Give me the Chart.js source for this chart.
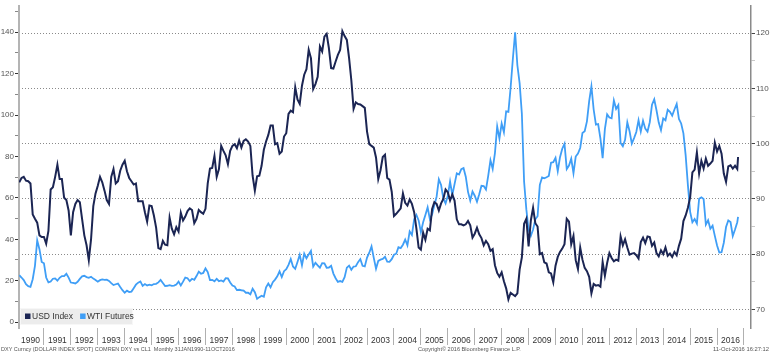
<!DOCTYPE html>
<html>
<head>
<meta charset="utf-8">
<script src="https://cdn.jsdelivr.net/npm/chart.js@4/dist/chart.umd.min.js"></script>
<style>
html,body{margin:0;padding:0;background:#fff;overflow:hidden}
#wrap{position:relative;width:770px;height:353px}
</style>
</head>
<body>
<div id="wrap"><canvas id="c" width="770" height="353"></canvas></div>
<script>
// ---------------- data ----------------
const startYear = 1990;          // first monthly observation: 31 Jan 1990
const lastObsDay = 11;           // last observation: 11 Oct 2016
const yearLabels = [1990,1991,1992,1993,1994,1995,1996,1997,1998,1999,2000,2001,2002,2003,2004,2005,2006,2007,2008,2009,2010,2011,2012,2013,2014,2015,2016];
const seriesNames = ['USD Index', 'WTI Futures'];
const leftTicks = [0,20,40,60,80,100,120,140];
const rightTicks = [70,80,90,100,110,120];

// DXY monthly closes (right axis)
const usdIndex = [
  93.0, 93.8, 94.0, 93.3, 93.2, 92.8, 87.2, 86.4, 85.7, 83.4, 83.1, 83.1,
  81.9, 84.2, 91.7, 92.1, 94.0, 96.2, 93.6, 93.6, 90.2, 89.8, 87.9, 83.4,
  87.6, 89.1, 89.8, 89.4, 86.4, 83.4, 81.6, 78.9, 82.7, 88.7, 91.0, 92.4,
  94.0, 93.0, 91.5, 89.8, 89.1, 94.0, 95.4, 92.8, 93.2, 95.1, 96.2, 96.9,
  95.0, 93.8, 93.2, 92.6, 92.8, 89.6, 89.6, 89.6, 87.6, 85.9, 88.8, 88.7,
  87.0, 84.8, 81.1, 80.9, 82.4, 81.7, 81.6, 86.6, 84.6, 83.6, 84.9, 84.1,
  87.5, 86.1, 86.8, 87.8, 88.3, 88.0, 85.6, 86.4, 88.0, 87.6, 87.3, 88.2,
  92.8, 95.5, 95.6, 97.8, 94.0, 95.4, 99.6, 98.7, 97.9, 96.3, 98.7, 99.6,
  99.9, 99.2, 100.6, 99.3, 100.5, 100.8, 100.4, 99.6, 94.2, 91.5, 94.1, 94.2,
  96.0, 98.9, 100.4, 101.6, 103.3, 103.3, 99.9, 100.1, 98.2, 98.6, 101.3, 101.9,
  105.4, 106.0, 105.7, 110.2, 108.0, 107.2, 110.5, 112.5, 113.5, 117.0, 115.5, 109.9,
  110.8, 112.1, 117.6, 116.7, 119.4, 119.9, 117.3, 113.7, 113.6, 114.9, 116.1, 117.0,
  120.4, 119.5, 118.8, 115.5, 111.5, 106.3, 107.5, 107.2, 107.1, 106.8, 106.5, 102.2,
  99.9, 99.6, 99.3, 97.5, 93.6, 95.2, 97.6, 98.0, 93.8, 93.5, 91.3, 86.9,
  87.3, 87.8, 88.3, 91.0, 89.3, 88.8, 89.9, 89.1, 87.6, 84.6, 81.2, 80.8,
  83.9, 82.6, 84.6, 84.3, 88.2, 89.4, 89.1, 87.9, 89.2, 90.0, 91.7, 91.2,
  89.7, 90.8, 89.7, 86.3, 85.4, 85.4, 85.2, 85.4, 86.0, 85.2, 83.0, 83.7,
  84.8, 83.6, 82.9, 81.6, 82.4, 81.8, 80.6, 80.9, 78.0, 76.6, 75.9, 76.7,
  75.1, 73.8, 71.8, 73.0, 72.7, 72.4, 72.9, 77.2, 79.4, 85.5, 86.4, 81.4,
  86.1, 88.4, 85.6, 85.0, 80.0, 80.2, 78.5, 78.3, 76.7, 76.5, 74.9, 77.9,
  79.5, 80.4, 81.0, 81.8, 86.4, 85.9, 81.8, 83.3, 78.9, 77.3, 81.2, 79.0,
  77.5, 76.9, 75.9, 72.9, 74.6, 74.3, 74.4, 74.1, 78.6, 76.1, 78.4, 80.2,
  79.3, 78.7, 79.0, 78.8, 83.2, 81.6, 82.7, 81.2, 79.9, 80.1, 80.2, 79.8,
  79.2, 82.2, 83.0, 82.0, 83.2, 83.1, 81.5, 82.1, 80.2, 79.6, 80.7, 80.0,
  81.2, 79.7, 80.1, 79.5, 80.4, 79.8, 81.5, 82.8, 86.0, 87.0, 88.4, 90.3,
  94.8, 95.3, 98.4, 94.6, 96.9, 95.5, 97.3, 96.0, 96.4, 96.9, 100.2, 98.6,
  99.6, 98.2, 94.6, 93.1, 95.9, 96.1, 95.5, 96.0, 95.4, 97.6
];

// WTI front-month monthly closes (left axis)
const wtiFutures = [
  22.68, 21.54, 20.28, 18.36, 17.40, 17.07, 20.69, 27.17, 39.51, 35.23, 29.03, 28.44,
  21.54, 19.16, 19.63, 20.96, 21.13, 20.00, 21.40, 22.25, 22.23, 23.35, 21.48, 19.12,
  18.90, 18.68, 19.44, 20.85, 22.11, 22.38, 21.76, 21.36, 21.91, 21.02, 20.37, 19.50,
  20.26, 20.60, 20.44, 20.53, 19.91, 18.85, 17.88, 18.29, 18.59, 16.92, 15.43, 14.17,
  15.19, 14.48, 14.74, 16.37, 18.07, 19.06, 19.65, 17.51, 18.39, 17.71, 18.07, 17.76,
  18.39, 18.49, 19.17, 20.38, 18.89, 17.40, 17.56, 17.84, 17.54, 17.64, 18.18, 19.55,
  17.74, 19.54, 21.47, 21.20, 19.76, 20.92, 20.42, 22.25, 24.38, 23.35, 23.75, 25.92,
  24.15, 20.30, 20.41, 19.71, 20.88, 19.80, 20.14, 19.61, 21.18, 21.08, 19.15, 17.64,
  17.21, 15.44, 15.61, 15.39, 15.20, 14.18, 14.21, 13.41, 16.14, 14.42, 11.22, 12.05,
  12.75, 12.27, 16.76, 18.66, 16.84, 19.29, 20.53, 22.10, 24.51, 21.75, 24.59, 25.60,
  27.64, 30.43, 26.90, 25.74, 29.01, 32.50, 27.43, 33.12, 30.84, 32.70, 34.40, 26.80,
  28.66, 27.39, 26.29, 28.46, 28.37, 26.25, 26.35, 27.20, 23.43, 21.18, 19.44, 19.84,
  19.48, 21.74, 26.31, 27.29, 25.31, 26.86, 26.97, 28.98, 30.45, 27.22, 26.89, 31.20,
  33.51, 36.60, 31.04, 25.80, 29.56, 30.19, 30.54, 31.57, 29.20, 29.11, 30.41, 32.52,
  33.05, 36.16, 35.76, 37.38, 39.88, 37.05, 43.80, 42.12, 49.64, 51.76, 49.13, 43.45,
  48.20, 51.75, 55.40, 49.72, 51.97, 56.50, 60.57, 68.94, 66.24, 59.76, 57.32, 61.04,
  67.92, 61.41, 66.63, 71.88, 71.29, 73.93, 74.40, 70.26, 62.91, 58.73, 63.13, 61.05,
  58.14, 61.79, 65.87, 65.71, 64.01, 70.68, 78.21, 74.04, 81.66, 94.53, 88.71, 95.98,
  91.75, 101.84, 101.58, 113.46, 127.35, 140.00, 124.08, 115.46, 100.64, 67.81, 54.43, 44.60,
  41.68, 44.76, 49.66, 51.12, 66.31, 69.89, 69.45, 69.96, 70.61, 77.00, 77.28, 79.36,
  72.89, 79.66, 83.76, 86.15, 73.97, 75.63, 78.95, 71.92, 79.97, 81.43, 84.11, 91.38,
  92.19, 96.97, 106.72, 113.93, 102.70, 95.42, 95.70, 88.81, 79.20, 93.19, 100.36, 98.83,
  98.48, 107.07, 103.02, 104.87, 86.53, 84.96, 88.06, 96.47, 92.19, 86.24, 88.91, 91.82,
  97.49, 92.05, 97.23, 93.46, 91.97, 96.56, 105.03, 107.65, 102.33, 96.38, 92.72, 98.42,
  97.49, 102.59, 101.58, 99.74, 102.71, 105.37, 98.17, 95.96, 91.16, 80.54, 66.15, 53.27,
  48.24, 49.76, 47.60, 59.63, 60.30, 59.47, 47.12, 49.20, 45.09, 46.59, 41.65, 37.04,
  33.62, 33.75, 38.34, 45.92, 49.10, 48.33, 41.60, 44.70, 48.24, 50.79
];

const footerLeft = 'DXY Curncy (DOLLAR INDEX SPOT) COMREN DXY vs CL1  Monthly 31JAN1990-11OCT2016';
const footerCenter = 'Copyright\u00A9 2016 Bloomberg Finance L.P.';
const footerRight = '11-Oct-2016 16:27:12';

// ---------------- helpers ----------------
function timeOf(i, n) {
  const y = startYear + Math.floor(i / 12);
  const m = i % 12;
  if (i === n - 1) return y + m / 12 + lastObsDay / 31 / 12;
  return y + (m + 1) / 12;
}
function toPoints(arr) { return arr.map((v, i) => ({ x: timeOf(i, arr.length), y: v })); }

const FONT = "'Liberation Sans', Arial, sans-serif";
Chart.defaults.font.family = FONT;

const COLOR_USD = '#1b2553';
const COLOR_WTI = '#3f9ef6';

const legendBox = {
  id: 'legendBox',
  afterDatasetsDraw(chart) {
    const ctx = chart.ctx, a = chart.chartArea;
    const x0 = a.left + 1, y0 = 308, w = 113, h = 17;
    ctx.save();
    ctx.fillStyle = '#ececec';
    ctx.fillRect(x0, y0, w, h);
    ctx.strokeStyle = '#f7f7f7';
    ctx.lineWidth = 1;
    ctx.strokeRect(x0 + 0.5, y0 + 0.5, w - 1, h - 1);
    ctx.font = '8.5px ' + FONT;
    ctx.textBaseline = 'middle';
    const cy = y0 + h / 2;
    const items = chart.data.datasets.map(d => ({ label: d.label, color: d.borderColor }));
    let x = x0 + 5;
    items.forEach(it => {
      ctx.fillStyle = it.color;
      ctx.fillRect(x, cy - 3, 5.5, 5.5);
      x += 7;
      ctx.fillStyle = '#333';
      ctx.fillText(it.label, x, cy + 0.5);
      x += ctx.measureText(it.label).width + 7;
    });
    ctx.restore();
  }
};

const footer = {
  id: 'footer',
  afterDraw(chart) {
    const ctx = chart.ctx;
    ctx.save();
    ctx.fillStyle = '#555';
    ctx.textBaseline = 'middle';
    ctx.font = '5.5px ' + FONT;
    ctx.textAlign = 'left';
    ctx.fillText(footerLeft, 1, 349);
    ctx.font = '5.6px ' + FONT;
    ctx.fillText(footerCenter, 418, 349);
    ctx.font = '5.8px ' + FONT;
    ctx.textAlign = 'right';
    ctx.fillText(footerRight, 769, 349);
    ctx.restore();
  }
};

new Chart(document.getElementById('c'), {
  type: 'line',
  data: {
    datasets: [
      { label: seriesNames[0], data: toPoints(usdIndex), yAxisID: 'yR', borderColor: COLOR_USD, backgroundColor: COLOR_USD, borderWidth: 2, pointRadius: 0, tension: 0, order: 0 },
      { label: seriesNames[1], data: toPoints(wtiFutures), yAxisID: 'yL', borderColor: COLOR_WTI, backgroundColor: COLOR_WTI, borderWidth: 1.8, pointRadius: 0, tension: 0, order: 1 }
    ]
  },
  options: {
    responsive: false,
    animation: false,
    devicePixelRatio: 1,
    layout: { padding: { left: 0, right: 0, top: 0, bottom: 8 } },
    plugins: { legend: { display: false }, tooltip: { enabled: false } },
    scales: {
      x: {
        type: 'linear', position: 'bottom',
        min: 1990.074, max: 2017.26,
        afterBuildTicks: s => { s.ticks = yearLabels.map(y => ({ value: y + 0.5 })); },
        afterFit: s => { s.height = 17; },
        ticks: { autoSkip: false, maxRotation: 0, minRotation: 0, padding: -9,
          callback: (v, i) => String(yearLabels[i]), color: '#333', font: { size: 8.5 } },
        grid: { offset: true, drawOnChartArea: false, drawTicks: true, tickLength: 17, color: '#b0b0b0', tickColor: '#b0b0b0', lineWidth: 1 },
        border: { display: false }
      },
      yL: {
        type: 'linear', position: 'left',
        min: -2.85, max: 152.8,
        afterBuildTicks: s => {
          const t = [];
          for (let k = 0; k < leftTicks.length; k++) {
            t.push({ value: leftTicks[k] });
            const next = k + 1 < leftTicks.length ? leftTicks[k + 1] : leftTicks[k] + (leftTicks[1] - leftTicks[0]);
            t.push({ value: (leftTicks[k] + next) / 2 });
          }
          s.ticks = t;
        },
        afterFit: s => { s.width = 19; },
        ticks: { autoSkip: false, padding: 1, color: '#555', font: { size: 8 },
          callback: v => leftTicks.includes(v) ? String(v) : '' },
        grid: { drawOnChartArea: false, tickLength: 4, tickWidth: 1,
          tickColor: c => leftTicks.includes(c.tick && c.tick.value) ? '#333' : '#888' },
        border: { color: '#b4b4b4', width: 2 }
      },
      yR: {
        type: 'linear', position: 'right',
        min: 66.62, max: 124.98,
        afterBuildTicks: s => {
          const t = [];
          for (let k = 0; k < rightTicks.length; k++) {
            t.push({ value: rightTicks[k] });
            if (k + 1 < rightTicks.length) t.push({ value: (rightTicks[k] + rightTicks[k + 1]) / 2 });
          }
          s.ticks = t;
        },
        afterFit: s => { s.width = 19; },
        ticks: { autoSkip: false, padding: 1, color: '#555', font: { size: 8 },
          callback: v => rightTicks.includes(v) ? String(v) : '' },
        grid: { drawOnChartArea: true, tickLength: 4, lineWidth: 1,
          color: c => rightTicks.includes(c.tick && c.tick.value) ? '#8a8a8a' : 'rgba(0,0,0,0)',
          tickColor: c => rightTicks.includes(c.tick && c.tick.value) ? '#444' : '#c8c8c8' },
        border: { color: '#8a8a8a', width: 1.5, dash: [1, 2] }
      }
    }
  },
  plugins: [legendBox, footer]
});
</script>
</body>
</html>
